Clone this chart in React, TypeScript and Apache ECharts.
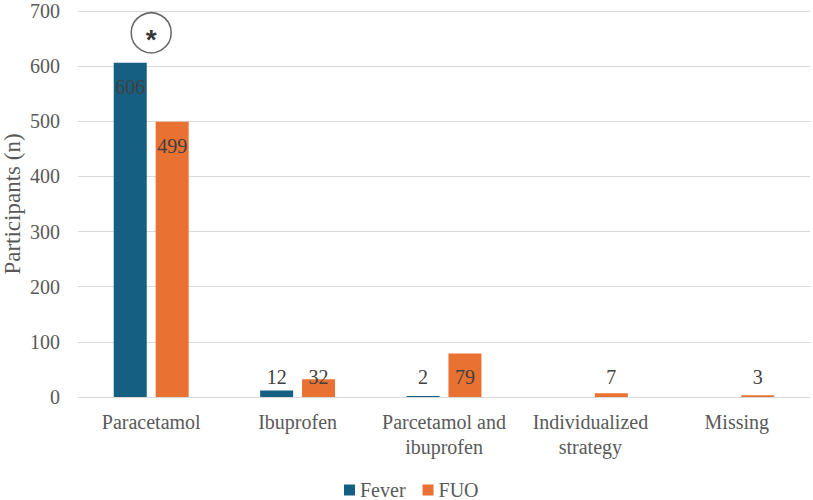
import React, { useEffect, useRef } from "react";
import * as echarts from "echarts";

const categories = [
  "Paracetamol",
  "Ibuprofen",
  "Parcetamol and\nibuprofen",
  "Individualized\nstrategy",
  "Missing",
];
const feverValues = [606, 12, 2, 0, 0];
const fuoValues = [499, 32, 79, 7, 3];
const yTicks = { min: 0, max: 700, interval: 100 };
const seriesNames = ["Fever", "FUO"];
const significantCategory = "Paracetamol";

const FONT = "Liberation Serif";
const LABEL_COLOR = "#404040";
const AXIS_COLOR = "#595959";

function labelFor(index: number) {
  // first category labels sit inside the top of tall bars; others near the base
  if (index === 0) {
    return { show: true, position: "insideTop", distance: 14 };
  }
  return { show: true, position: "insideBottom", distance: 10 };
}

function buildData(values: number[]) {
  return values.map((v, i) => ({ value: v, label: labelFor(i) }));
}

export default function App() {
  const ref = useRef<HTMLDivElement>(null);
  useEffect(() => {
    if (!ref.current) return;
    document.body.style.margin = "0";
    const chart = echarts.init(ref.current, undefined, { renderer: "svg" });
    const commonLabel = {
      color: LABEL_COLOR,
      fontSize: 20,
      fontFamily: FONT,
      formatter: (p: any) => (p.value === 0 ? "" : String(p.value)),
    };
    const sigIndex = categories.indexOf(significantCategory);
    chart.setOption({
      animation: false,
      textStyle: { fontFamily: FONT },
      grid: {
        left: 78,
        right: 3,
        top: 11,
        bottom: 103,
        containLabel: false,
        outerBoundsMode: "none",
      },
      legend: {
        data: seriesNames,
        left: 339,
        top: 475,
        itemWidth: 11,
        itemHeight: 11,
        itemGap: 17,
        icon: "rect",
        textStyle: { fontSize: 20, color: AXIS_COLOR, fontFamily: FONT },
      },
      xAxis: {
        type: "category",
        data: categories,
        axisLine: { show: true, lineStyle: { color: "#D9D9D9", width: 1 } },
        axisTick: { show: false },
        axisLabel: {
          color: AXIS_COLOR,
          fontSize: 20,
          fontFamily: FONT,
          margin: 12,
          lineHeight: 25,
          interval: 0,
        },
      },
      yAxis: {
        type: "value",
        min: yTicks.min,
        max: yTicks.max,
        interval: yTicks.interval,
        name: "Participants (n)",
        nameLocation: "middle",
        nameRotate: 90,
        nameGap: 54,
        nameMoveOverlap: false,
        nameTextStyle: { color: AXIS_COLOR, fontSize: 23, fontFamily: FONT },
        axisLine: { show: false },
        axisTick: { show: false },
        axisLabel: { color: AXIS_COLOR, fontSize: 20, fontFamily: FONT, margin: 18 },
        splitLine: { lineStyle: { color: "#D9D9D9", width: 1 } },
      },
      series: [
        {
          name: seriesNames[0],
          type: "bar",
          data: buildData(feverValues),
          barWidth: 33,
          barGap: "27%",
          itemStyle: { color: "#156082" },
          label: commonLabel,
        },
        {
          name: seriesNames[1],
          type: "bar",
          data: buildData(fuoValues),
          barWidth: 33,
          barGap: "27%",
          itemStyle: { color: "#E97132" },
          label: commonLabel,
        },
        {
          name: "significance",
          type: "scatter",
          silent: true,
          data: [[significantCategory, feverValues[sigIndex]]],
          symbol: "circle",
          symbolSize: 40,
          symbolOffset: [0, -30],
          itemStyle: {
            color: "rgba(255,255,255,0)",
            borderColor: "#404040",
            borderWidth: 1.5,
          },
          label: {
            show: true,
            position: "inside",
            formatter: "*",
            color: "#000000",
            fontSize: 28,
            fontWeight: "bold",
            fontFamily: "Liberation Sans",
            offset: [0, 7],
          },
          z: 5,
        },
      ],
    });
    return () => chart.dispose();
  }, []);
  return <div ref={ref} style={{ width: 813, height: 500 }} />;
}
